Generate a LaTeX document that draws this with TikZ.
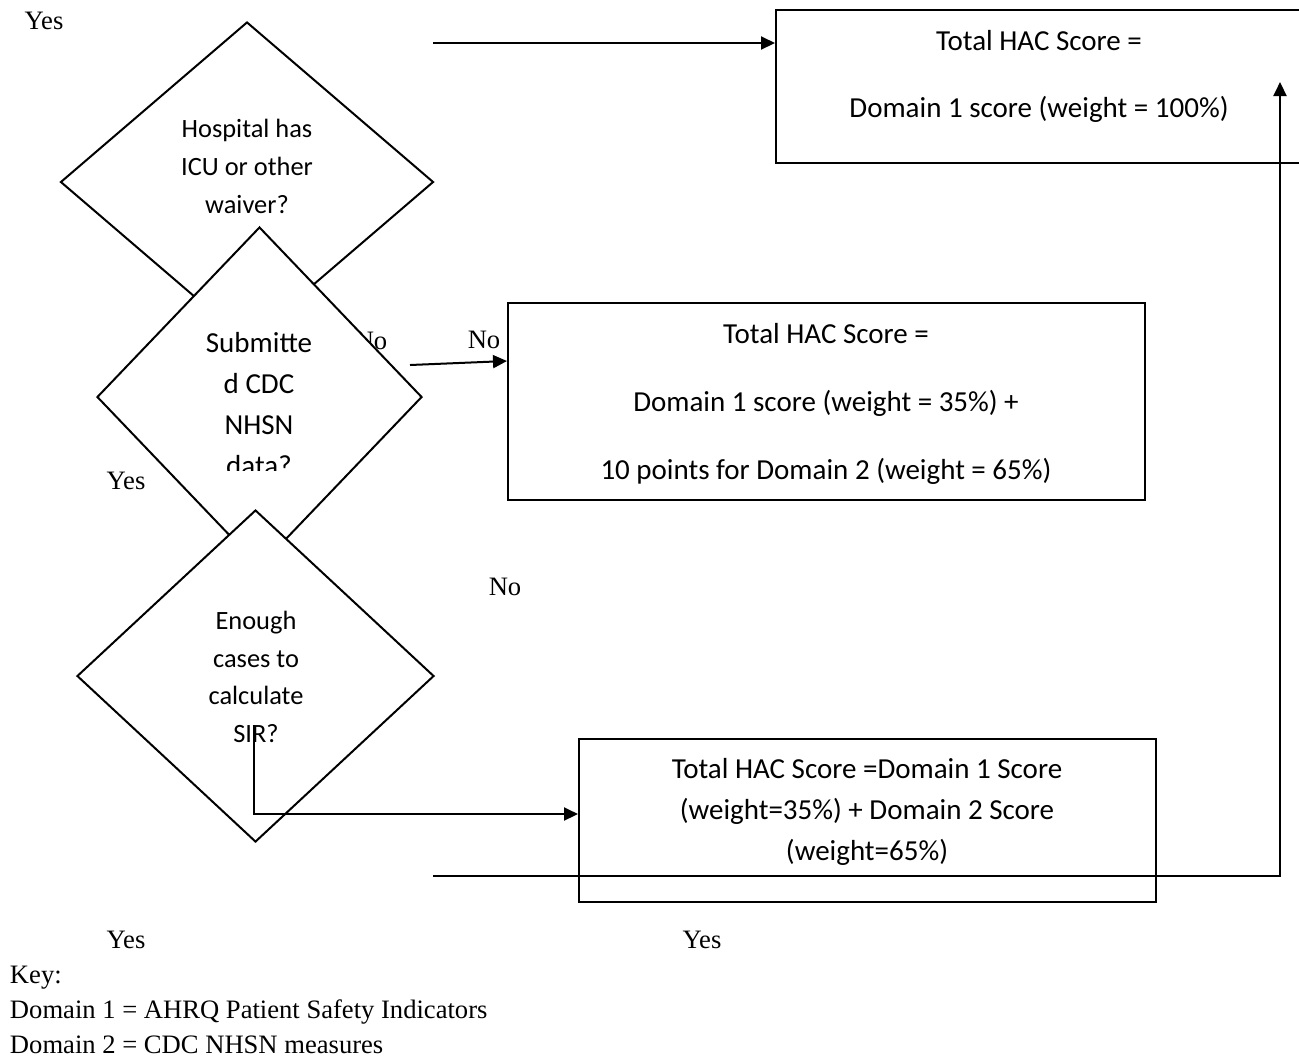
\documentclass[tikz,border=0pt]{standalone}
\usepackage{fontspec}
\setmainfont{Liberation Serif}
\newfontfamily\calfont{Carlito}
\usetikzlibrary{shapes.geometric,arrows.meta}
\begin{document}
\begin{tikzpicture}[x=0.5pt,y=-0.5pt,
  line width=1pt,
  dec/.style={draw, shape=diamond, fill=white, inner sep=0pt},
  box/.style={draw, rectangle, inner sep=0pt},
  dtext/.style={font=\calfont\fontsize{13.2}{18.8}\selectfont, align=center, inner sep=0pt},
  btext/.style={font=\calfont\fontsize{14.5}{20.5}\selectfont, align=center, inner sep=0pt},
  wtext/.style={font=\calfont\fontsize{14.5}{34}\selectfont, align=center, inner sep=0pt},
  lbl/.style={font=\fontsize{13.3}{17.5}\selectfont, inner sep=0pt},
  arr/.style={-{Triangle[length=7pt,width=6.5pt]}},
]
\useasboundingbox (0,0) rectangle (1299,1057);

% decision 1
\node[dec, minimum width=186.5pt, minimum height=160pt] (d1) at (247,182) {};
\node[dtext] (t1) at (247,166.5) {Hospital has\\ICU or other\\waiver?};
\node[lbl] (nohid) at (371,341) {No};

% decision 2
\node[dec, minimum width=162.5pt, minimum height=170pt] (d2) at (259.5,397) {};
\begin{scope}
  \clip (0,0) rectangle (1299,470);
  \node[btext] (t2) at (259,404.5) {Submitte\\d CDC\\NHSN\\data?};
\end{scope}

% decision 3
\node[dec, minimum width=178.5pt, minimum height=166pt] (d3) at (255.5,676) {};
\node[dtext] (t3) at (256,677) {Enough\\cases to\\calculate\\SIR?};

% outcome boxes
\node[box, minimum width=263pt, minimum height=76.5pt] (b1) at (1039,86.5) {};
\node[wtext, font=\calfont\fontsize{14.5}{33.5}\selectfont] (tb1) at (1039,76) {Total HAC Score =\\Domain 1 score (weight = 100\%)};

\node[box, minimum width=318.5pt, minimum height=98.5pt] (b2) at (826.5,401.5) {};
\node[wtext] (tb2) at (826,404) {Total HAC Score =\\Domain 1 score (weight = 35\%) +\\10 points for Domain 2 (weight = 65\%)};

\node[box, minimum width=288.5pt, minimum height=81.5pt] (b3) at (867.5,820.5) {};
\node[btext] (tb3) at (867,812) {Total HAC Score =Domain 1 Score\\(weight=35\%) + Domain 2 Score\\(weight=65\%)};

% connectors
\coordinate (y1) at (433,43);
\draw[arr] (y1) -- (y1 -| b1.west);

\coordinate (n1) at (410,365);
\coordinate (n1e) at (b2.west |- 0,361);
\draw[arr] (n1) -- (n1e);

\coordinate (s3) at (254,725);
\coordinate (s3e) at (b3.west |- 0,814);
\draw[arr] (s3) |- (s3e);

\coordinate (y4) at (433,876);
\coordinate (up) at (1280,82);
\draw[arr] (y4) -| (up);

% labels
\node[lbl] (yes1) at (44,21) {Yes};
\node[lbl] (no1) at (484,340) {No};
\node[lbl] (yes2) at (126,481) {Yes};
\node[lbl] (no2) at (505,587) {No};
\node[lbl] (yes3) at (126,940) {Yes};
\node[lbl] (yes4) at (702,940) {Yes};
\node[lbl, align=left, anchor=west] (key) at (9,1010) {Key:\\Domain 1 = AHRQ Patient Safety Indicators\\Domain 2 = CDC NHSN measures};
\end{tikzpicture}
\end{document}
